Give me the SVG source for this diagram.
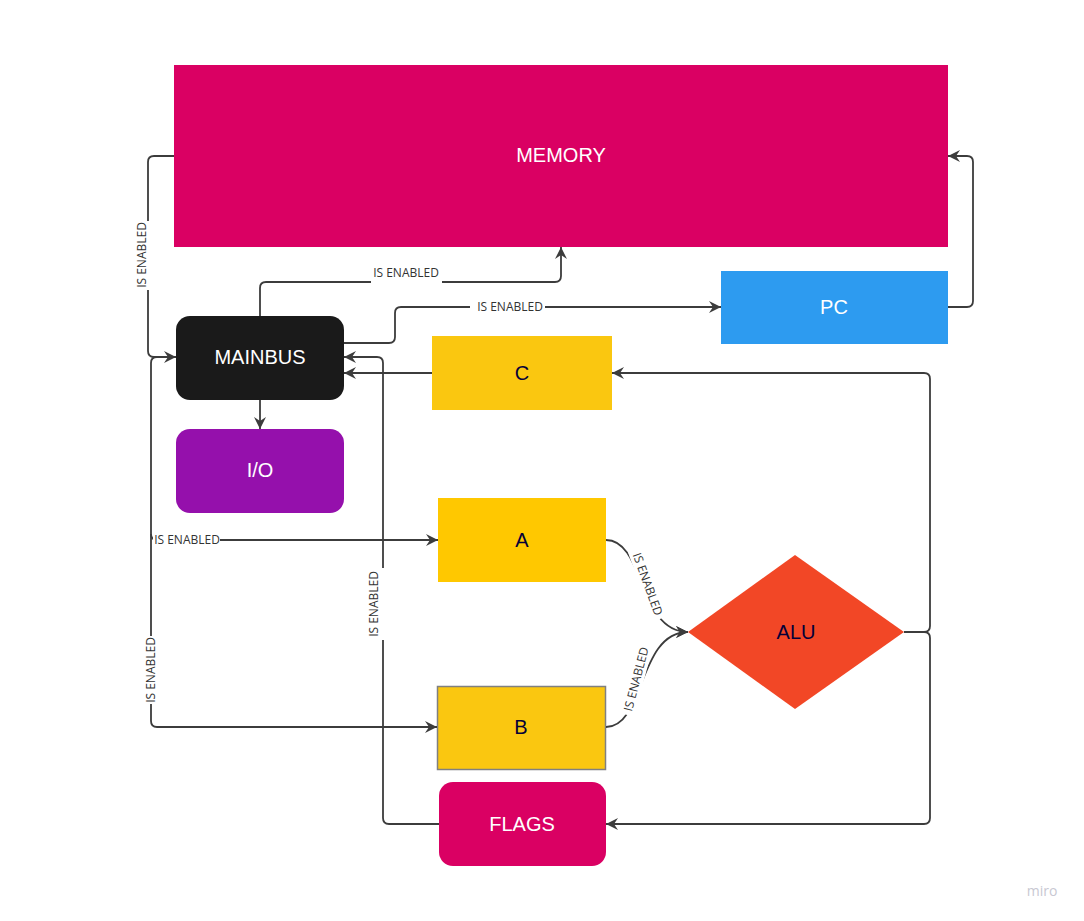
<svg xmlns="http://www.w3.org/2000/svg" width="1084" height="921" viewBox="0 0 1084 921">
<style>
.nt{font-family:"Liberation Sans",Arial,sans-serif;font-size:20px;text-anchor:middle;dominant-baseline:central}
.w{fill:#ffffff}
.d{fill:#050038}
.c{fill:none;stroke:#3c3c3c;stroke-width:1.8}
.lb{font-family:"Open Sans","Liberation Sans",sans-serif;font-size:12px;fill:#333333;text-anchor:middle;dominant-baseline:central}
.bg{fill:#ffffff}
</style>
<defs>
<marker id="ar" markerUnits="userSpaceOnUse" markerWidth="16" markerHeight="16" refX="12" refY="7" orient="auto">
<path d="M0,1 L12,7 L0,13 L4,7 z" fill="#3c3c3c"/>
</marker>
</defs>
<rect width="1084" height="921" fill="#ffffff"/>
<g id="memory"><rect x="174" y="65" width="774" height="182" fill="#DA0063"/><text class="nt w" x="561" y="155">MEMORY</text></g>
<g id="pc"><rect x="721" y="271" width="227" height="73" fill="#2D9BF0"/><text class="nt w" x="834" y="307">PC</text></g>
<g id="mainbus"><rect x="176" y="316" width="168" height="84" rx="14" fill="#1A1A1A"/><text class="nt w" x="260" y="357">MAINBUS</text></g>
<g id="io"><rect x="176" y="429" width="168" height="84" rx="14" fill="#9510AC"/><text class="nt w" x="260" y="470">I/O</text></g>
<g id="c"><rect x="432" y="336" width="180" height="74" fill="#FAC710"/><text class="nt d" x="522" y="373">C</text></g>
<g id="a"><rect x="438" y="498" width="168" height="84" fill="#FFC800"/><text class="nt d" x="522" y="540">A</text></g>
<g id="b"><rect x="437.5" y="686.5" width="168" height="83" fill="#FAC710" stroke="#808080" stroke-width="1.5"/><text class="nt d" x="521" y="727">B</text></g>
<g id="flags"><rect x="439" y="782" width="167" height="84" rx="14" fill="#DA0063"/><text class="nt w" x="522" y="824">FLAGS</text></g>
<g id="alu"><polygon points="688,632 795,555 904,632 795,709" fill="#F24726"/><text class="nt d" x="796" y="632">ALU</text></g>
<g id="connectors">
<path class="c" d="M174,156 H154 Q148,156 148,162 V351 Q148,357 154,357 H176" marker-end="url(#ar)"/>
<rect class="bg" x="132" y="221" width="20" height="69"/>
<text class="lb" transform="translate(141,255) rotate(-90)">IS ENABLED</text>
<path class="c" d="M260,316 V288 Q260,282 266,282 H555 Q561,282 561,276 V247" marker-end="url(#ar)"/>
<rect class="bg" x="371" y="263" width="71" height="22"/>
<text class="lb" x="406" y="272">IS ENABLED</text>
<path class="c" d="M344,343 H389 Q395,343 395,337 V313 Q395,307 401,307 H721" marker-end="url(#ar)"/>
<rect class="bg" x="470" y="299" width="75" height="16"/>
<text class="lb" x="510" y="306">IS ENABLED</text>
<path class="c" d="M432,373 H344" marker-end="url(#ar)"/>
<path class="c" d="M439,824 H389 Q383,824 383,818 V363 Q383,357 377,357 H344" marker-end="url(#ar)"/>
<rect class="bg" x="364" y="568" width="22" height="72"/>
<text class="lb" transform="translate(373,604) rotate(-90)">IS ENABLED</text>
<path class="c" d="M176,357 H157 Q151,357 151,363 V721 Q151,727 157,727 H437" marker-end="url(#ar)"/>
<rect class="bg" x="141" y="636" width="20" height="68"/>
<text class="lb" transform="translate(150,670) rotate(-90)">IS ENABLED</text>
<path class="c" d="M151,534 Q151,540 157,540 H438" marker-end="url(#ar)"/>
<rect class="bg" x="153" y="531" width="67" height="18"/>
<text class="lb" x="187" y="539">IS ENABLED</text>
<path class="c" d="M260,400 V429" marker-end="url(#ar)"/>
<path class="c" d="M948,307 H967 Q973,307 973,301 V162 Q973,156 967,156 H948" marker-end="url(#ar)"/>
<path class="c" d="M904,632 H924 Q930,632 930,626 V379 Q930,373 924,373 H612" marker-end="url(#ar)"/>
<path class="c" d="M904,632 H924 Q930,632 930,638 V818 Q930,824 924,824 H606" marker-end="url(#ar)"/>
<path class="c" d="M606,540 C645,540 638,632 688,632" marker-end="url(#ar)"/>
<g transform="translate(648,584) rotate(70)"><rect class="bg" x="-37" y="-8" width="74" height="16"/><text class="lb" x="0" y="0">IS ENABLED</text></g>
<path class="c" d="M606,727 C645,727 638,632 688,632" marker-end="url(#ar)"/>
<g transform="translate(636,679) rotate(-75)"><rect class="bg" x="-37" y="-8" width="74" height="16"/><text class="lb" x="0" y="0">IS ENABLED</text></g>
</g>
<text x="1042" y="896" font-family="Open Sans, sans-serif" font-size="14" fill="#c8c8d2" text-anchor="middle">miro</text>
</svg>
